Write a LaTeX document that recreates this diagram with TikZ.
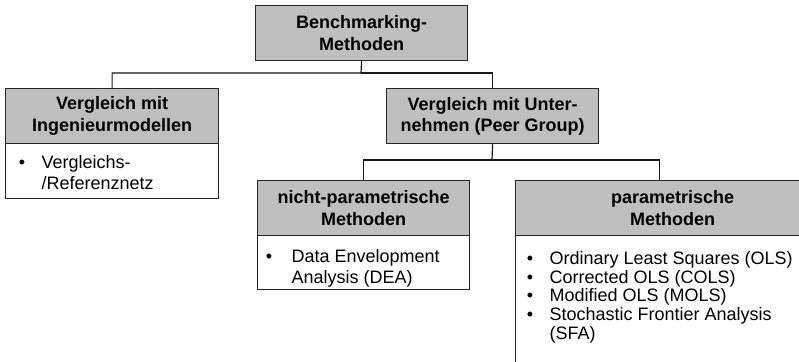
\documentclass[tikz,border=0pt]{standalone}
\usepackage{fontspec}
\setmainfont{Liberation Sans}
\begin{document}
\begin{tikzpicture}[x=1pt,y=-1pt,
  line width=1.2pt,
  hdr/.style={draw=black!85, fill=black!25, anchor=north west, minimum height=55pt,
    align=center, inner sep=0pt, font=\fontsize{18}{21.5}\selectfont\bfseries},
  bodybox/.style={draw=black!85, fill=white, anchor=north west, inner sep=0pt},
  item/.style={anchor=base west, inner sep=0pt, font=\fontsize{18}{21}\selectfont},
  dot/.style={anchor=base, inner sep=0pt, font=\fontsize{18}{21}\selectfont},
  link/.style={draw=black!90, line width=1.2pt}]
\useasboundingbox (0,0) rectangle (799,361);
\clip (0,0) rectangle (799,361);

% root
\node[hdr, minimum width=212pt] (root) at (255,5) {Benchmarking-\\Methoden};

% engineering models
\node[hdr, minimum width=213pt] (eng) at (5,88) {Vergleich mit\\Ingenieurmodellen};
\node[bodybox, minimum width=213pt, minimum height=55pt] (engb) at (5,143) {};
\node[dot] (engd1) at (22,168) {•};
\node[item] (engi1) at (41,168) {Vergleichs-};
\node[item] (engi2) at (41,189) {/Referenznetz};

% peer group
\node[hdr, minimum width=212pt] (peer) at (386,88) {Vergleich mit Unter-\\nehmen (Peer Group)};

% non-parametric
\node[hdr, minimum width=212pt] (npm) at (257,180) {nicht-parametrische\\Methoden};
\node[bodybox, minimum width=212pt, minimum height=54pt] (npmb) at (257,235) {};
\node[dot] (npmd1) at (269,262) {•};
\node[item] (npmi1) at (291,262) {Data Envelopment};
\node[item] (npmi2) at (291,283) {Analysis (DEA)};

% parametric
\node[hdr, minimum width=314pt] (pm) at (515,180) {parametrische\\Methoden};
\node[bodybox, minimum width=314pt, minimum height=160pt] (pmb) at (515,235) {};
\node[dot] (pmd1) at (530,264) {•};
\node[item] (pmi1) at (549,264) {Ordinary Least Squares (OLS)};
\node[dot] (pmd2) at (530,283) {•};
\node[item] (pmi2) at (549,283) {Corrected OLS (COLS)};
\node[dot] (pmd3) at (530,301) {•};
\node[item] (pmi3) at (549,301) {Modified OLS (MOLS)};
\node[dot] (pmd4) at (530,320) {•};
\node[item] (pmi4) at (549,320) {Stochastic Frontier Analysis};
\node[item] (pmi5) at (549,339) {(SFA)};

% connectors
\coordinate (bus1) at (361,73);
\coordinate (bus2) at (492,160);
\draw[link] (root.south) -- (bus1) -| (eng.north);
\draw[link] (bus1) -| (peer.north);
\draw[link] (peer.south) -- (bus2);
\draw[link] (bus2) -| (npm.north);
\draw[link] (bus2) -| ([xshift=-13pt]pm.north);
\end{tikzpicture}
\end{document}
